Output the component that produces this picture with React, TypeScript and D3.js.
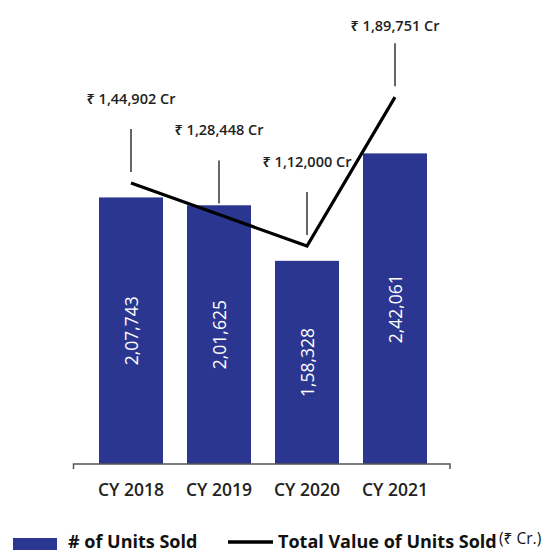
import React from "react";
import * as d3 from "d3";

const categories = ["CY 2018", "CY 2019", "CY 2020", "CY 2021"];
const unitsSold = [207743, 201625, 158328, 242061];
const unitLabels = ["2,07,743", "2,01,625", "1,58,328", "2,42,061"];
const totalValue = [144902, 128448, 112000, 189751];
const valueLabels = ["₹ 1,44,902 Cr", "₹ 1,28,448 Cr", "₹ 1,12,000 Cr", "₹ 1,89,751 Cr"];

const W = 544;
const H = 550;
const BASE = 464;
const FONT = "'Open Sans', 'Noto Sans', sans-serif";

export default function App() {
  const x = d3
    .scaleBand<string>()
    .domain(categories)
    .range([87, 439])
    .paddingInner(0.2727)
    .paddingOuter(0.1364);
  const yBar = d3.scaleLinear().domain([0, 361600]).range([BASE, 0]);
  const yLine = d3.scaleLinear().domain([0, 240500]).range([460.5, 0]);

  const pts: [number, number][] = categories.map((c, i) => [
    (x(c) as number) + x.bandwidth() / 2,
    yLine(totalValue[i]),
  ]);
  const line = d3.line<[number, number]>().x((d) => d[0]).y((d) => d[1]);

  return (
    <svg
      width={W}
      height={H}
      style={{ position: "absolute", left: 0, top: 0, background: "#fff" }}
      fontFamily={FONT}
    >
      {categories.map((c, i) => {
        const bx = x(c) as number;
        const top = yBar(unitsSold[i]);
        const cx = bx + x.bandwidth() / 2;
        const cy = (top + BASE) / 2;
        return (
          <g key={c}>
            <rect x={bx} y={top} width={x.bandwidth()} height={BASE - top} fill="#2b3691" />
            <text
              transform={`translate(${cx},${cy}) rotate(-90)`}
              textAnchor="middle"
              dominantBaseline="central"
              fill="#fff"
              fontSize={17.5}
            >
              {unitLabels[i]}
            </text>
          </g>
        );
      })}

      {/* axis */}
      <path d={`M73.5,${BASE + 5}V${BASE}H450V${BASE + 5}`} fill="none" stroke="#555" strokeWidth={1.5} />
      {categories.map((c) => (
        <text
          key={c}
          x={(x(c) as number) + x.bandwidth() / 2}
          y={489}
          textAnchor="middle"
          dominantBaseline="central"
          fontSize={17.5}
          fontWeight={600}
          fill="#222"
        >
          {c}
        </text>
      ))}

      {/* line */}
      <path d={line(pts) || ""} fill="none" stroke="#000" strokeWidth={3.2} />

      {/* leaders and labels */}
      {pts.map(([px, py], i) => (
        <g key={i}>
          <line x1={px} x2={px} y1={py - 54} y2={py - 11} stroke="#333" strokeWidth={1.5} />
          <text
            x={px}
            y={Math.max(py - 85, 25)}
            textAnchor="middle"
            dominantBaseline="central"
            fontSize={14.5}
            fontWeight={600}
            fill="#222"
          >
            {valueLabels[i]}
          </text>
        </g>
      ))}

      {/* legend */}
      <rect x={13} y={538} width={44} height={12} fill="#2b3691" />
      <text x={68} y={548} fontSize={18} fontWeight={700} fill="#111">
        # of Units Sold
      </text>
      <line x1={228} x2={273} y1={542} y2={542} stroke="#000" strokeWidth={3.5} />
      <text x={278} y={548} fontSize={18} fontWeight={700} fill="#111">
        Total Value of Units Sold
      </text>
      <text x={499} y={544} fontSize={15.5} fontWeight={400} fill="#111">
        (₹ Cr.)
      </text>
    </svg>
  );
}
